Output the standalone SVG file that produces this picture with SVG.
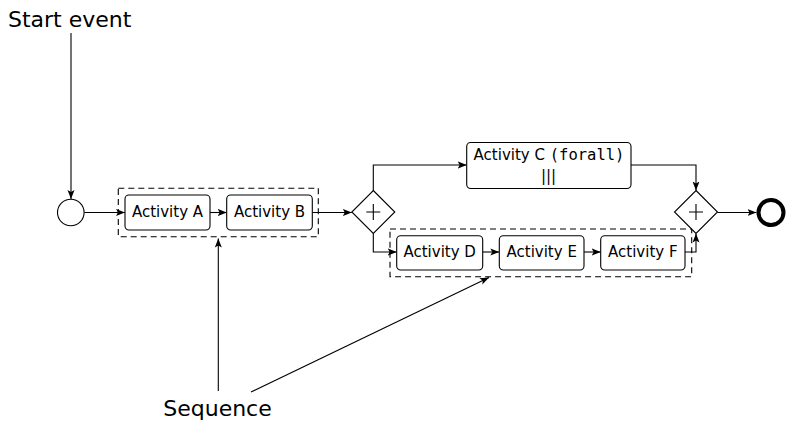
<svg xmlns="http://www.w3.org/2000/svg" width="786" height="422" viewBox="0 0 786 422">
<defs>
<marker id="arr" markerUnits="userSpaceOnUse" markerWidth="10" markerHeight="8" viewBox="0 0 10 8" refX="9" refY="4" orient="auto">
<path d="M0,0.5 L9,4 L0,7.5 L2,4 z" fill="#000"/>
</marker>
<style>
.box{fill:#fff;stroke:#000;stroke-width:1.1}
.grp{fill:none;stroke:#000;stroke-width:1.1;stroke-dasharray:6 4}
.ln{fill:none;stroke:#000;stroke-width:1.1;marker-end:url(#arr)}
.t{font-family:"DejaVu Sans",sans-serif;font-size:15px;fill:#000;text-anchor:middle}
.big{font-family:"DejaVu Sans",sans-serif;font-size:22px;fill:#000}
.mono{font-family:"DejaVu Sans Mono",monospace;font-size:15.5px}
</style>
</defs>
<rect width="786" height="422" fill="#fff"/>

<g id="seq1"><rect class="grp" x="118.3" y="188.3" width="200" height="48.4"/></g>
<g id="seq2"><rect class="grp" x="390" y="229" width="301.7" height="47.7"/></g>

<g id="connectors">
<line class="ln" x1="71" y1="33" x2="71" y2="199"/>
<line class="ln" x1="84.3" y1="212.5" x2="125" y2="212.5"/>
<line class="ln" x1="210" y1="212.5" x2="226.7" y2="212.5"/>
<line class="ln" x1="312.3" y1="212.5" x2="351.8" y2="212.5"/>
<polyline class="ln" points="373.3,190.5 373.3,165 466.7,165"/>
<polyline class="ln" points="373.3,233.5 373.3,252 396.7,252"/>
<line class="ln" x1="482.7" y1="252" x2="499.3" y2="252"/>
<line class="ln" x1="584" y1="252" x2="600.7" y2="252"/>
<polyline class="ln" points="631,165 696,165 696,190.5"/>
<polyline class="ln" points="685,252 696,252 696,233.5"/>
<line class="ln" x1="717.5" y1="212.5" x2="756.5" y2="212.5"/>
<line class="ln" x1="218.3" y1="391" x2="218.3" y2="238.5"/>
<line class="ln" x1="251" y1="392" x2="489" y2="277.5"/>
</g>

<g id="start"><circle cx="70.8" cy="212.5" r="13.3" fill="#fff" stroke="#000" stroke-width="1.1"/></g>

<g id="actA"><rect class="box" x="125" y="195" width="85" height="35" rx="4"/><text class="t" x="167.5" y="217">Activity A</text></g>
<g id="actB"><rect class="box" x="226.7" y="195" width="85.6" height="35" rx="4"/><text class="t" x="269.5" y="217">Activity B</text></g>

<g id="gw1"><path d="M373.3,190.5 L394.8,212 L373.3,233.5 L351.8,212 Z" fill="#fff" stroke="#000" stroke-width="1.1"/><path d="M366.3,212 H380.3 M373.3,204 V220" stroke="#000" stroke-width="1.1"/></g>

<g id="actC"><rect class="box" x="466.7" y="142.5" width="164.3" height="46" rx="4"/><text class="t" x="549" y="160">Activity C <tspan class="mono">(forall)</tspan></text><text class="t" x="548.5" y="181">|||</text></g>

<g id="actD"><rect class="box" x="396.7" y="235.7" width="86" height="34.3" rx="4"/><text class="t" x="439.7" y="257">Activity D</text></g>
<g id="actE"><rect class="box" x="499.3" y="235.7" width="84.7" height="34.3" rx="4"/><text class="t" x="541.7" y="257">Activity E</text></g>
<g id="actF"><rect class="box" x="600.7" y="235.7" width="84.3" height="34.3" rx="4"/><text class="t" x="642.8" y="257">Activity F</text></g>

<g id="gw2"><path d="M696,190.5 L717.5,212 L696,233.5 L674.5,212 Z" fill="#fff" stroke="#000" stroke-width="1.1"/><path d="M689,212 H703 M696,204 V220" stroke="#000" stroke-width="1.1"/></g>

<g id="end"><circle cx="771" cy="212.5" r="12.5" fill="#fff" stroke="#000" stroke-width="4"/></g>

<g id="lblStart"><text class="big" x="8" y="26.7">Start event</text></g>
<g id="lblSeq"><text class="big" x="217.5" y="416" text-anchor="middle" font-size="21">Sequence</text></g>
</svg>
